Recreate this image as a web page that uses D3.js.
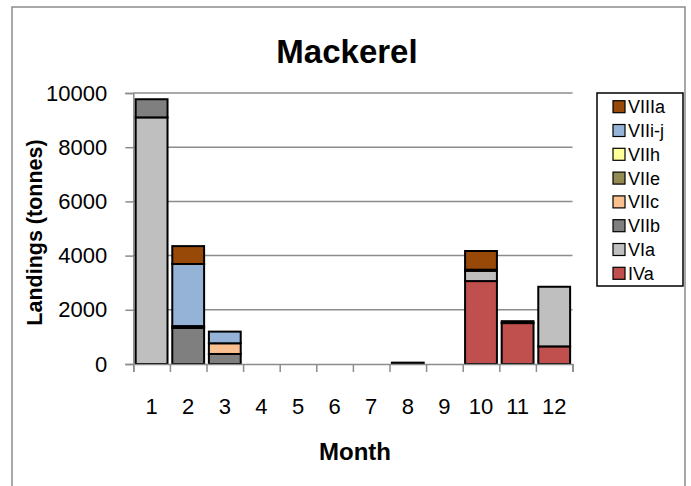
<!DOCTYPE html>
<html>
<head>
<meta charset="utf-8">
<script src="https://cdn.jsdelivr.net/npm/d3@7"></script>
<style>
  html, body { margin: 0; padding: 0; background: #fff; }
  svg { display: block; font-family: "Liberation Sans", Arial, sans-serif; }
</style>
</head>
<body>
<div id="chart"></div>
<script>
const months = ["1", "2", "3", "4", "5", "6", "7", "8", "9", "10", "11", "12"]
const areas = ["IVa", "VIa", "VIIb", "VIIc", "VIIe", "VIIh", "VIIi-j", "VIIIa"]

// landings in tonnes, one value per month
const IVa   = [0, 0, 0, 0, 0, 0, 0, 0, 0, 3060, 1510, 650]
const VIa   = [9100, 0, 0, 0, 0, 0, 0, 0, 0, 380, 70, 2200]
const VIIb  = [670, 1330, 370, 0, 0, 0, 0, 50, 0, 40, 0, 0]
const VIIc  = [0, 0, 395, 0, 0, 0, 0, 0, 0, 0, 0, 0]
const VIIe  = [0, 70, 0, 0, 0, 0, 0, 0, 0, 0, 0, 0]
const VIIh  = [0, 0, 0, 0, 0, 0, 0, 0, 0, 0, 0, 0]
const VIIij = [0, 2290, 430, 0, 0, 0, 0, 0, 0, 0, 0, 0]
const VIIIa = [0, 660, 0, 0, 0, 0, 0, 0, 0, 690, 0, 0]

const yTicks = [0, 2000, 4000, 6000, 8000, 10000]

const COLORS = {
  "IVa": "#c0504d",
  "VIa": "#bfbfbf",
  "VIIb": "#7f7f7f",
  "VIIc": "#fac090",
  "VIIe": "#948a54",
  "VIIh": "#ffff99",
  "VIIi-j": "#95b3d7",
  "VIIIa": "#984807"
}

const seriesValues = {
  "IVa": IVa, "VIa": VIa, "VIIb": VIIb, "VIIc": VIIc,
  "VIIe": VIIe, "VIIh": VIIh, "VIIi-j": VIIij, "VIIIa": VIIIa
}

const rows = months.map((m, i) => {
  const r = { month: m }
  areas.forEach(a => { r[a] = seriesValues[a][i] })
  return r
})

const width = 691
const height = 486
const grid = "#8c8c8c"

const svg = d3.select("#chart").append("svg")
  .attr("width", width)
  .attr("height", height)

// outer chart frame (bottom runs past the picture)
svg.append("rect")
  .attr("x", 12).attr("y", 7)
  .attr("width", 673).attr("height", 500)
  .attr("fill", "#fff")
  .attr("stroke", grid)
  .attr("stroke-width", 1.5)

const plot = { left: 133.3, right: 572.5, top: 93, bottom: 364 }

const x = d3.scaleBand()
  .domain(months)
  .range([plot.left, plot.right])
  .paddingInner(0.13)
  .paddingOuter(0.065)

const xEdges = d3.scaleLinear()
  .domain([0, 12])
  .range([plot.left, plot.right])

const y = d3.scaleLinear()
  .domain([0, 10000])
  .range([plot.bottom, plot.top])

// gridlines
svg.append("g")
  .selectAll("line")
  .data(yTicks.filter(t => t > 0))
  .join("line")
  .attr("x1", plot.left).attr("x2", plot.right)
  .attr("y1", d => y(d)).attr("y2", d => y(d))
  .attr("stroke", grid)
  .attr("stroke-width", 1.5)

// y axis
const yAxis = svg.append("g")
  .attr("transform", `translate(${plot.left},0)`)
  .call(d3.axisLeft(y).tickValues(yTicks).tickSize(8).tickPadding(18).tickFormat(d3.format("d")))
yAxis.select(".domain").attr("stroke", grid).attr("stroke-width", 1.5)
yAxis.selectAll(".tick line").attr("stroke", grid).attr("stroke-width", 1.5)
yAxis.selectAll(".tick text")
  .attr("font-size", "22px")
  .attr("fill", "#000")
  .attr("font-family", "Liberation Sans, Arial, sans-serif")

// stacked bars
const stack = d3.stack().keys(areas)(rows)

const layer = svg.append("g")
  .selectAll("g")
  .data(stack)
  .join("g")
  .attr("fill", d => COLORS[d.key])

layer.selectAll("rect")
  .data(d => d.filter(s => s[1] - s[0] > 0))
  .join("rect")
  .attr("x", d => x(d.data.month))
  .attr("width", x.bandwidth())
  .attr("y", d => y(d[1]))
  .attr("height", d => y(d[0]) - y(d[1]))
  .attr("stroke", "#000")
  .attr("stroke-width", 2)

// x axis: ticks at band edges
const xAxis = svg.append("g")
  .attr("transform", `translate(0,${plot.bottom})`)
  .call(d3.axisBottom(xEdges).tickValues(d3.range(0, 13)).tickSize(8).tickFormat(""))
xAxis.select(".domain").attr("stroke", grid).attr("stroke-width", 1.5)
xAxis.selectAll(".tick line").attr("stroke", grid).attr("stroke-width", 1.5)

const xLabels = svg.append("g")
  .attr("transform", `translate(0,${plot.bottom})`)
  .call(d3.axisBottom(x).tickSize(0).tickPadding(34))
xLabels.select(".domain").remove()
xLabels.selectAll(".tick text")
  .attr("font-size", "22px")
  .attr("fill", "#000")
  .attr("font-family", "Liberation Sans, Arial, sans-serif")

// title
svg.append("text")
  .attr("x", 347).attr("y", 63)
  .attr("text-anchor", "middle")
  .attr("font-size", "33px")
  .attr("font-weight", "bold")
  .text("Mackerel")

// axis titles
svg.append("text")
  .attr("transform", `translate(42,${(plot.top + plot.bottom) / 2 + 4}) rotate(-90)`)
  .attr("text-anchor", "middle")
  .attr("font-size", "21.5px")
  .attr("font-weight", "bold")
  .text("Landings (tonnes)")

svg.append("text")
  .attr("x", 355).attr("y", 460)
  .attr("text-anchor", "middle")
  .attr("font-size", "24px")
  .attr("font-weight", "bold")
  .text("Month")

// legend
const legend = svg.append("g")
legend.append("rect")
  .attr("x", 597).attr("y", 93)
  .attr("width", 86).attr("height", 193)
  .attr("fill", "#fff")
  .attr("stroke", "#000")
  .attr("stroke-width", 1.5)

const items = legend.selectAll("g.item")
  .data(areas.slice().reverse())
  .join("g")
  .attr("class", "item")
  .attr("transform", (d, i) => `translate(0,${106.7 + i * 23.8})`)

items.append("rect")
  .attr("x", 613).attr("y", -6)
  .attr("width", 12).attr("height", 12)
  .attr("fill", d => COLORS[d])
  .attr("stroke", "#000")
  .attr("stroke-width", 1.2)

items.append("text")
  .attr("x", 628).attr("y", 0)
  .attr("dy", "0.36em")
  .attr("font-size", "18px")
  .text(d => d)
</script>
</body>
</html>
